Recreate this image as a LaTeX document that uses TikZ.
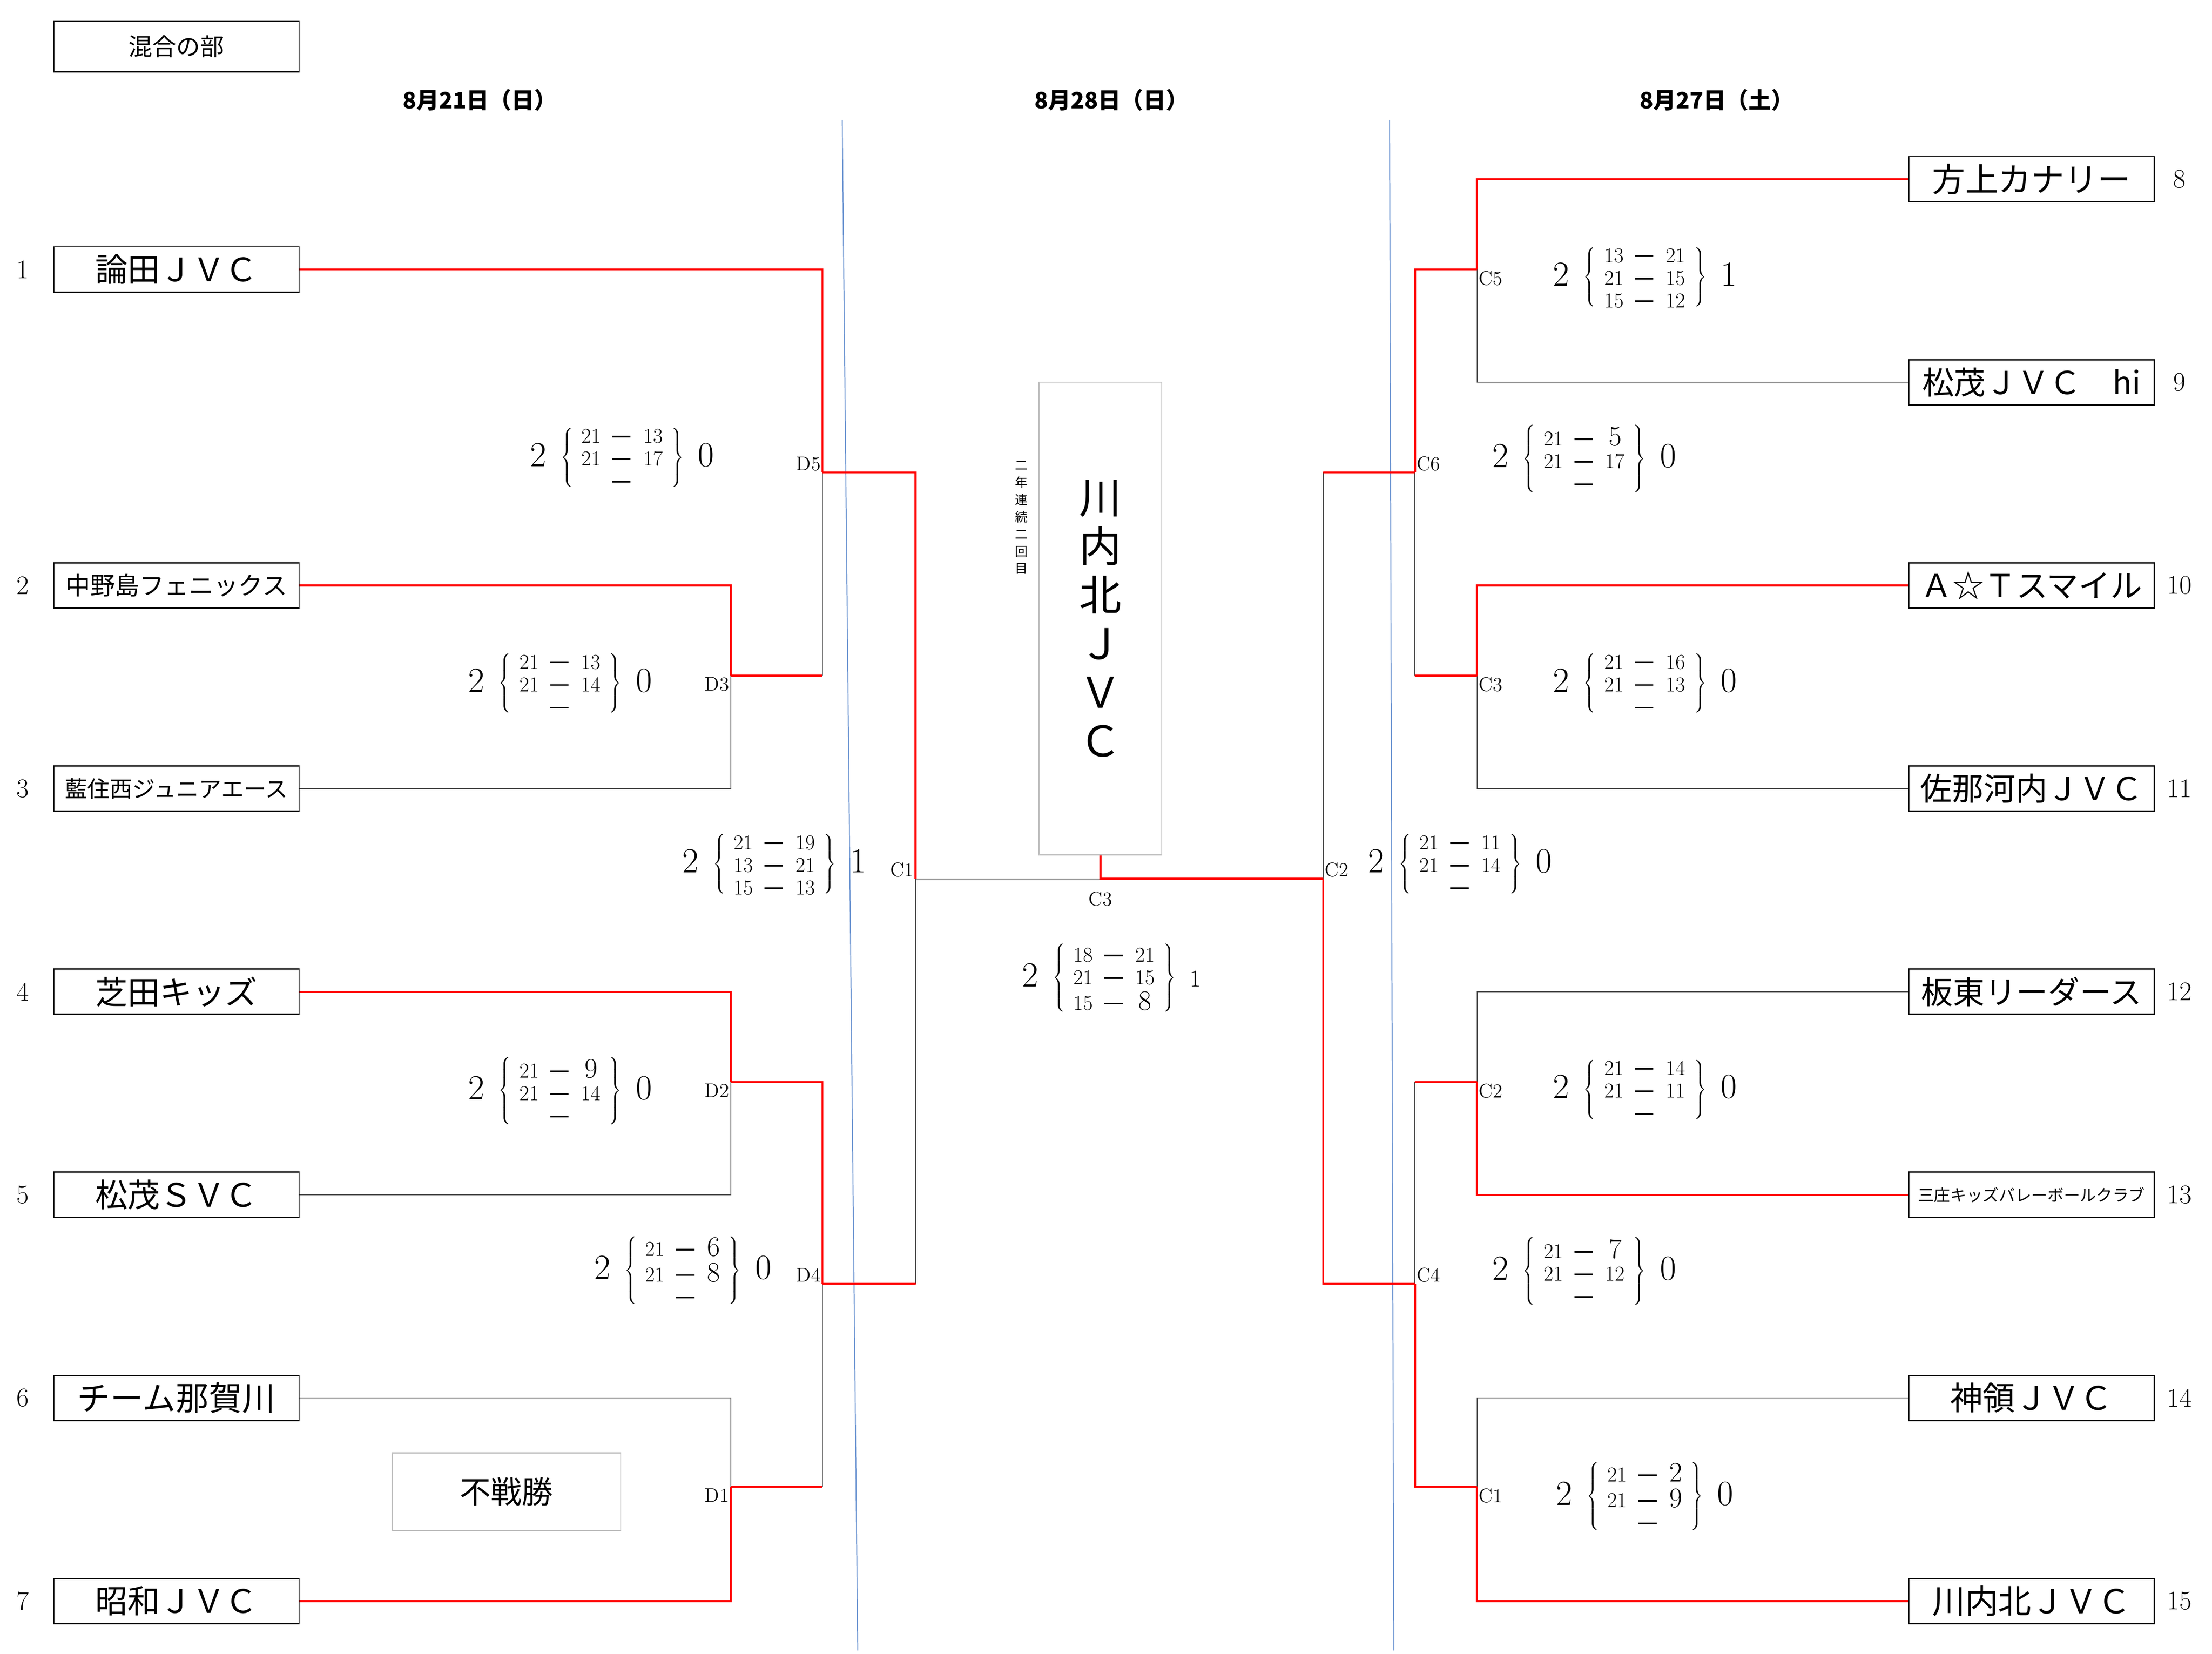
\documentclass[tikz,border=0pt]{standalone}
\usepackage{fontspec}
\newfontfamily\cjk{Noto Sans CJK JP}
\usetikzlibrary{positioning}
\definecolor{ruleblue}{RGB}{110,150,210}
\tikzset{
    win line/.style={red,line width=1.4pt},
    lose line/.style={black!70,line width=0.6pt},
    team box/.style={draw,line width=0.9pt,minimum width=174pt,minimum height=32pt,inner sep=0pt,font=\cjk\fontsize{#1}{#1}\selectfont},
    team box/.default=23,
    seed/.style={font=\fontsize{19}{19}\selectfont},
    match label/.style={inner sep=1pt,font=\fontsize{14}{14}\selectfont},
    day label/.style={font=\cjk\bfseries\fontsize{16}{16}\selectfont},
    grey box/.style={draw=black!25,line width=0.8pt},
    day rule/.style={ruleblue,line width=0.7pt},
    score/.style={inner sep=0pt},
}
\newcommand{\setscore}[3]{\fontsize{25}{26}\selectfont#1\hspace{10pt}$\delimiterfactor=700\delimitershortfall=12pt\left\{\hspace{6pt}\hbox{\fontsize{15}{16}\selectfont\begin{tabular}{@{}c@{\hspace{8pt}\rule[4pt]{13pt}{1.2pt}\hspace{9pt}}c@{}}#2\end{tabular}}\hspace{6pt}\right\}$\hspace{10pt}#3}
\newcommand{\bigdigit}[1]{{\fontsize{20}{16}\selectfont#1}}

\begin{document}
\begin{tikzpicture}[x=1pt,y=-1pt]
    \useasboundingbox (0,0) rectangle (1568,1172.3);
    \node[draw,line width=0.9pt,minimum width=174pt,minimum height=36pt,font=\cjk\fontsize{17}{17}\selectfont] (title) at (125,33) {混合の部};
    \node[day label] (dayL) at (340,71) {8月21日（日）};
    \node[day label] (dayM) at (788,71) {8月28日（日）};
    \node[day label] (dayR) at (1217,71) {8月27日（土）};
    \draw[day rule] (597,85) -- (608,1170);
    \draw[day rule] (985,85) -- (988,1170);

    \node[seed] (n1) at (16,191) {1};
    \node[seed] (n2) at (16,415) {2};
    \node[seed] (n3) at (16,559) {3};
    \node[seed] (n4) at (16,703) {4};
    \node[seed] (n5) at (16,847) {5};
    \node[seed] (n6) at (16,991) {6};
    \node[seed] (n7) at (16,1135) {7};
    \node[seed] (n8) at (1545,127) {8};
    \node[seed] (n9) at (1545,271) {9};
    \node[seed] (n10) at (1545,415) {10};
    \node[seed] (n11) at (1545,559) {11};
    \node[seed] (n12) at (1545,703) {12};
    \node[seed] (n13) at (1545,847) {13};
    \node[seed] (n14) at (1545,991) {14};
    \node[seed] (n15) at (1545,1135) {15};

    \node[team box=23] (t1) at (125,191) {論田ＪＶＣ};
    \node[team box=17.5] (t2) at (125,415) {中野島フェニックス};
    \node[team box=16] (t3) at (125,559) {藍住西ジュニアエース};
    \node[team box=23] (t4) at (125,703) {芝田キッズ};
    \node[team box=23] (t5) at (125,847) {松茂ＳＶＣ};
    \node[team box=23.5] (t6) at (125,991) {チーム那賀川};
    \node[team box=23] (t7) at (125,1135) {昭和ＪＶＣ};
    \node[team box=23.5] (t8) at (1440,127) {方上カナリー};
    \node[team box=22.5] (t9) at (1440,271) {松茂ＪＶＣ　hi};
    \node[team box=22.5] (t10) at (1440,415) {Ａ☆Ｔスマイル};
    \node[team box=22.5] (t11) at (1440,559) {佐那河内ＪＶＣ};
    \node[team box=22.5] (t12) at (1440,703) {板東リーダース};
    \node[team box=11.5] (t13) at (1440,847) {三庄キッズバレーボールクラブ};
    \node[team box=23] (t14) at (1440,991) {神領ＪＶＣ};
    \node[team box=23.5] (t15) at (1440,1135) {川内北ＪＶＣ};

    \node[grey box,minimum width=87pt,minimum height=335pt,inner sep=0pt,align=center,font=\cjk\fontsize{30}{34.5}\selectfont] (champ) at (780,438.5) {川\\内\\北\\Ｊ\\Ｖ\\Ｃ};
    \node[align=center,inner sep=0pt,font=\cjk\fontsize{9}{12.2}\selectfont] (note) at (724,367) {二\\年\\連\\続\\二\\回\\目};
    \node[grey box,minimum width=162pt,minimum height=55pt,font=\cjk\fontsize{22}{22}\selectfont] (bye) at (359,1057.5) {不戦勝};

    \coordinate (d3) at (518,479);
    \coordinate (d5) at (583,335);
    \coordinate (d2) at (518,767);
    \coordinate (d1) at (518,1054);
    \coordinate (d4) at (583,910);
    \coordinate (cL1) at (649,623);
    \coordinate (fin) at (780,623);
    \coordinate (cM2) at (938,623);
    \coordinate (c5) at (1047,191);
    \coordinate (c6) at (1003,335);
    \coordinate (c3) at (1047,479);
    \coordinate (c2) at (1047,767);
    \coordinate (c4) at (1003,910);
    \coordinate (c1) at (1047,1054);

    \draw[lose line] (t3.east) -| (d3);
    \draw[lose line] (d5) -- (d5 |- d3);
    \draw[lose line] (t5.east) -| (d2);
    \draw[lose line] (t6.east) -| (d1);
    \draw[lose line] (d4) -- (d4 |- d1);
    \draw[lose line] (cL1) -- (cL1 |- d4);
    \draw[lose line] (cL1) -- (fin);
    \draw[lose line] (cM2) -- (cM2 |- c6);
    \draw[lose line] (t9.west) -| (c5);
    \draw[lose line] (c6) -- (c6 |- c3);
    \draw[lose line] (t11.west) -| (c3);
    \draw[lose line] (t12.west) -| (c2);
    \draw[lose line] (c4 |- c2) -- (c4);
    \draw[lose line] (t14.west) -| (c1);

    \draw[win line] (t1.east) -| (d5);
    \draw[win line] (t2.east) -| (d3);
    \draw[win line] (d3) -- (d5 |- d3);
    \draw[win line] (d5) -| (cL1);
    \draw[win line] (t4.east) -| (d2);
    \draw[win line] (d2) -| (d4);
    \draw[win line] (t7.east) -| (d1);
    \draw[win line] (d1) -- (d4 |- d1);
    \draw[win line] (d4) -- (cL1 |- d4);
    \draw[win line] (champ.south) -- (fin) -- (cM2);
    \draw[win line] (cM2) |- (c4);
    \draw[win line] (c6) -- (cM2 |- c6);
    \draw[win line] (t8.west) -| (c5);
    \draw[win line] (c5) -| (c6);
    \draw[win line] (t10.west) -| (c3);
    \draw[win line] (c3) -- (c6 |- c3);
    \draw[win line] (t13.west) -| (c2);
    \draw[win line] (c2) -- (c4 |- c2);
    \draw[win line] (t15.west) -| (c1);
    \draw[win line] (c1) -| (c4);

    \node[match label,above left=0pt of d5] (lD5) {D5};
    \node[match label,below left=0pt of d3] (lD3) {D3};
    \node[match label,below left=0pt of d2] (lD2) {D2};
    \node[match label,below left=0pt of d1] (lD1) {D1};
    \node[match label,above left=0pt of d4] (lD4) {D4};
    \node[match label,above left=0pt of cL1] (lCL1) {C1};
    \node[match label,below=8pt of fin] (lFin) {C3};
    \node[match label,above right=0pt of cM2] (lCM2) {C2};
    \node[match label,below right=0pt of c5] (lC5) {C5};
    \node[match label,above right=0pt of c6] (lC6) {C6};
    \node[match label,below right=0pt of c3] (lC3) {C3};
    \node[match label,below right=0pt of c2] (lC2) {C2};
    \node[match label,above right=0pt of c4] (lC4) {C4};
    \node[match label,below right=0pt of c1] (lC1) {C1};

    \node[score] (sD5) at (441,327) {\setscore{2}{21&13\\21&17\\&}{0}};
    \node[score] (sD3) at (397,487) {\setscore{2}{21&13\\21&14\\&}{0}};
    \node[score] (sCL1) at (549,615) {\setscore{2}{21&19\\13&21\\15&13}{1}};
    \node[score] (sD2) at (397,775) {\setscore{2}{21&\bigdigit{9}\\21&14\\&}{0}};
    \node[score] (sD4) at (484,903) {\setscore{2}{21&\bigdigit{6}\\21&\bigdigit{8}\\&}{0}};
    \node[score] (sFin) at (788,695) {\setscore{2}{18&21\\21&15\\15&\bigdigit{8}}{\fontsize{17}{17}\selectfont1}};
    \node[score] (sCM2) at (1035,615) {\setscore{2}{21&11\\21&14\\&}{0}};
    \node[score] (sC5) at (1166,199) {\setscore{2}{13&21\\21&15\\15&12}{1}};
    \node[score] (sC6) at (1123,327) {\setscore{2}{21&\bigdigit{5}\\21&17\\&}{0}};
    \node[score] (sC3) at (1166,487) {\setscore{2}{21&16\\21&13\\&}{0}};
    \node[score] (sC2) at (1166,775) {\setscore{2}{21&14\\21&11\\&}{0}};
    \node[score] (sC4) at (1123,903) {\setscore{2}{21&\bigdigit{7}\\21&12\\&}{0}};
    \node[score] (sC1) at (1166,1063) {\setscore{2}{21&\bigdigit{2}\\21&\bigdigit{9}\\&}{0}};
\end{tikzpicture}
\end{document}
